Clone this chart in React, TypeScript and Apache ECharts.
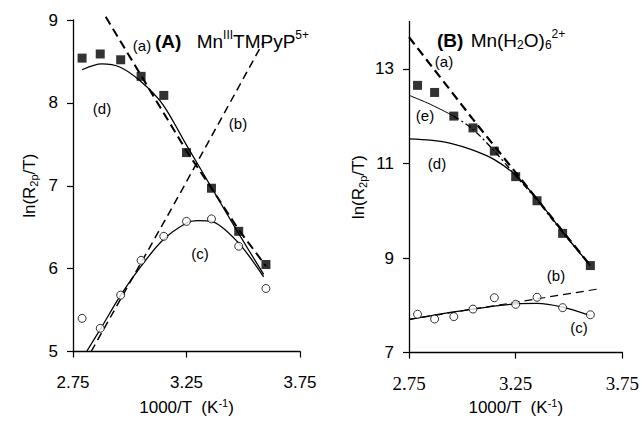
import React, { useEffect, useRef } from 'react';
import * as echarts from 'echarts';

// ---------- data ----------
const xTicks = [2.75, 3.25, 3.75];
const yTicksA = [5, 6, 7, 8, 9];
const yTicksB = [7, 9, 11, 13];

// Panel A: Mn(III)TMPyP(5+)
const xA = [2.79, 2.87, 2.96, 3.05, 3.15, 3.25, 3.36, 3.48, 3.60];
const squaresA = [8.54, 8.59, 8.52, 8.32, 8.09, 7.40, 6.97, 6.45, 6.05];
const circlesA = [5.40, 5.28, 5.68, 6.10, 6.39, 6.57, 6.60, 6.27, 5.76];
const lineA_a = [[2.894, 9.04], [3.05, 8.33], [3.25, 7.42], [3.36, 6.97], [3.48, 6.47], [3.60, 6.03]];
const lineA_b = [[2.83, 5.0], [2.99, 5.78], [3.22, 6.90], [3.59, 8.74]];
const lineA_c = [[2.81, 5.0], [2.875, 5.29], [2.96, 5.68], [3.05, 6.03], [3.146, 6.345], [3.25, 6.55], [3.30, 6.58], [3.36, 6.57], [3.476, 6.32], [3.59, 5.90]];
const lineA_d = [[2.79, 8.40], [2.876, 8.47], [2.958, 8.43], [3.048, 8.26], [3.146, 7.98], [3.248, 7.50], [3.362, 6.97], [3.476, 6.44], [3.59, 5.93]];

// Panel B: Mn(H2O)6(2+)
const xB = [2.79, 2.87, 2.96, 3.05, 3.15, 3.25, 3.35, 3.47, 3.60];
const squaresB = [12.65, 12.50, 12.0, 11.75, 11.26, 10.72, 10.21, 9.52, 8.84];
const circlesB = [7.81, 7.71, 7.76, 7.92, 8.16, 8.02, 8.17, 7.95, 7.80];
const lineB_a = [[2.75, 13.67], [3.05, 11.93], [3.60, 8.84]];
const lineB_b = [[2.75, 7.70], [3.643, 8.35]];
const lineB_c = [[2.75, 7.70], [2.96, 7.86], [3.25, 8.03], [3.35, 8.04], [3.47, 7.96], [3.60, 7.78]];
const lineB_d = [[2.75, 11.52], [2.85, 11.49], [2.95, 11.42], [3.05, 11.28], [3.15, 11.08], [3.25, 10.75], [3.35, 10.25], [3.47, 9.55], [3.60, 8.84]];
const lineB_eSolid = [[2.75, 12.44], [2.85, 12.25], [2.96, 12.0]];
const lineB_eDash = [[2.96, 12.0], [3.05, 11.72], [3.15, 11.26], [3.25, 10.74], [3.35, 10.22], [3.47, 9.54], [3.60, 8.84]];

const SANS = 'Liberation Sans';
const SERIF = 'Liberation Serif';

export default function App() {
  const ref = useRef<HTMLDivElement>(null);

  useEffect(() => {
    document.body.style.margin = '0';
    const chart = echarts.init(ref.current!, null, { renderer: 'svg' });

    const axisLine = { show: true, lineStyle: { color: '#000', width: 1.3 } };
    const tick = (vals: number[]) => ({ show: true, inside: false, length: 6, customValues: vals, lineStyle: { color: '#000', width: 1.2 } });
    const subRich = {
      sub: { fontFamily: SANS, fontSize: 11, color: '#000', padding: [8, 0, 0, 0] },
      sup: { fontFamily: SANS, fontSize: 11, color: '#000', padding: [0, 0, 9, 0] },
    };
    const yName = 'ln(R{sub|2p}/T)';
    const xName = '1000/T  (K{sup|-1})';

    const line = (data: number[][], xi: number, type: any, width: number, smooth: number | boolean = false, clip = true) => ({
      type: 'line',
      data,
      xAxisIndex: xi,
      yAxisIndex: xi,
      symbol: 'none',
      smooth,
      clip,
      z: 2,
      lineStyle: { color: '#000', width, type },
    });
    const squares = (xs: number[], ys: number[], xi: number) => ({
      type: 'scatter',
      data: xs.map((x, i) => [x, ys[i]]),
      xAxisIndex: xi,
      yAxisIndex: xi,
      symbol: 'rect',
      symbolSize: 9,
      z: 5,
      itemStyle: { color: '#000' },
    });
    const circles = (xs: number[], ys: number[], xi: number) => ({
      type: 'scatter',
      data: xs.map((x, i) => [x, ys[i]]),
      xAxisIndex: xi,
      yAxisIndex: xi,
      symbol: 'circle',
      symbolSize: 8,
      z: 5,
      itemStyle: { color: '#fff', borderColor: '#000', borderWidth: 1 },
    });

    const label = (text: string, x: number, y: number, size = 15) => ({
      type: 'text',
      x,
      y,
      style: {
        text,
        fill: '#000',
        font: `${size}px "${SANS}"`,
        fontFamily: SANS,
        fontSize: size,
        align: 'center',
        verticalAlign: 'middle',
        textAlign: 'center',
        textVerticalAlign: 'middle',
      },
    });

    const makeRich = (gap: number) => ({
      b: { fontFamily: SANS, fontSize: 19, fontWeight: 'bold', color: '#000', padding: [0, gap, 0, 0] },
      n: { fontFamily: SANS, fontSize: 19, color: '#000' },
      sup: { fontFamily: SANS, fontSize: 12, color: '#000', padding: [0, 0, 12, 0] },
      sub: { fontFamily: SANS, fontSize: 12, color: '#000', padding: [10, 0, 0, 0] },
    });

    chart.setOption({
      animation: false,
      backgroundColor: '#fff',
      grid: [
        { left: 73, width: 227, top: 20, height: 339 },
        { left: 409, width: 215, top: 21.5, height: 332.5 },
      ],
      xAxis: [
        {
          gridIndex: 0, type: 'value', min: 2.75, max: 3.75,
          axisLine, axisTick: tick(xTicks), splitLine: { show: false },
          axisLabel: { customValues: xTicks, formatter: (v: number) => v.toFixed(2), margin: 22, fontFamily: SANS, fontSize: 17, color: '#000' },
          name: xName, nameLocation: 'middle', nameGap: 46,
          nameTextStyle: { fontFamily: SANS, fontSize: 17, color: '#000', rich: subRich },
        },
        {
          gridIndex: 1, type: 'value', min: 2.75, max: 3.75,
          axisLine, axisTick: tick(xTicks), splitLine: { show: false },
          axisLabel: { customValues: xTicks, formatter: (v: number) => v.toFixed(2), margin: 21, fontFamily: SERIF, fontSize: 19, color: '#000' },
          name: xName, nameLocation: 'middle', nameGap: 35,
          nameTextStyle: { fontFamily: SANS, fontSize: 17, color: '#000', rich: subRich },
        },
      ],
      yAxis: [
        {
          gridIndex: 0, type: 'value', min: 5, max: 9,
          axisLine, axisTick: tick(yTicksA), splitLine: { show: false },
          axisLabel: { customValues: yTicksA, margin: 15, fontFamily: SANS, fontSize: 17, color: '#000' },
          name: yName, nameLocation: 'middle', nameGap: 34, nameRotate: 90,
          nameTextStyle: { fontFamily: SANS, fontSize: 17, color: '#000', rich: subRich },
        },
        {
          gridIndex: 1, type: 'value', min: 7, max: 14,
          axisLine, axisTick: tick(yTicksB), splitLine: { show: false },
          axisLabel: { customValues: yTicksB, margin: 15, fontFamily: SANS, fontSize: 17, color: '#000' },
          name: yName, nameLocation: 'middle', nameGap: 41, nameRotate: 90,
          nameTextStyle: { fontFamily: SANS, fontSize: 17, color: '#000', rich: subRich },
        },
      ],
      series: [
        line(lineA_a, 0, [9, 5], 2, false, false),
        line(lineA_b, 0, [8, 5], 1.5),
        line(lineA_c, 0, 'solid', 1.3, 0.3),
        line(lineA_d, 0, 'solid', 1.3, 0.3),
        squares(xA, squaresA, 0),
        circles(xA, circlesA, 0),
        line(lineB_a, 1, [9, 5], 2.2),
        line(lineB_b, 1, [8, 5], 1.2),
        line(lineB_c, 1, 'solid', 1.3, 0.3),
        line(lineB_d, 1, 'solid', 1.3, 0.3),
        line(lineB_eSolid, 1, 'solid', 1, 0.3),
        line(lineB_eDash, 1, [6, 3, 2, 3], 1.3, 0.3),
        squares(xB, squaresB, 1),
        circles(xB, circlesB, 1),
      ],
      graphic: [
        label('(a)', 142, 45),
        label('(d)', 102, 108),
        label('(b)', 238, 123),
        label('(c)', 200, 253),
        label('(a)', 444, 61),
        label('(e)', 425, 115),
        label('(d)', 437, 163),
        label('(b)', 556, 275),
        label('(c)', 579, 327),
        {
          type: 'text', x: 155, y: 41,
          style: {
            text: '{b|(A)} {n|Mn}{sup|III}{n|TMPyP}{sup|5+}', rich: makeRich(10),
            fill: '#000', fontFamily: SANS, fontSize: 19,
            align: 'left', verticalAlign: 'middle', textAlign: 'left', textVerticalAlign: 'middle',
          },
        },
        {
          type: 'text', x: 437, y: 40,
          style: {
            text: '{b|(B)} {n|Mn(H}{sub|2}{n|O)}{sub|6}{sup|2+}', rich: makeRich(2),
            fill: '#000', fontFamily: SANS, fontSize: 19,
            align: 'left', verticalAlign: 'middle', textAlign: 'left', textVerticalAlign: 'middle',
          },
        },
      ],
    });

    return () => chart.dispose();
  }, []);

  return <div ref={ref} style={{ width: 642, height: 421 }} />;
}
